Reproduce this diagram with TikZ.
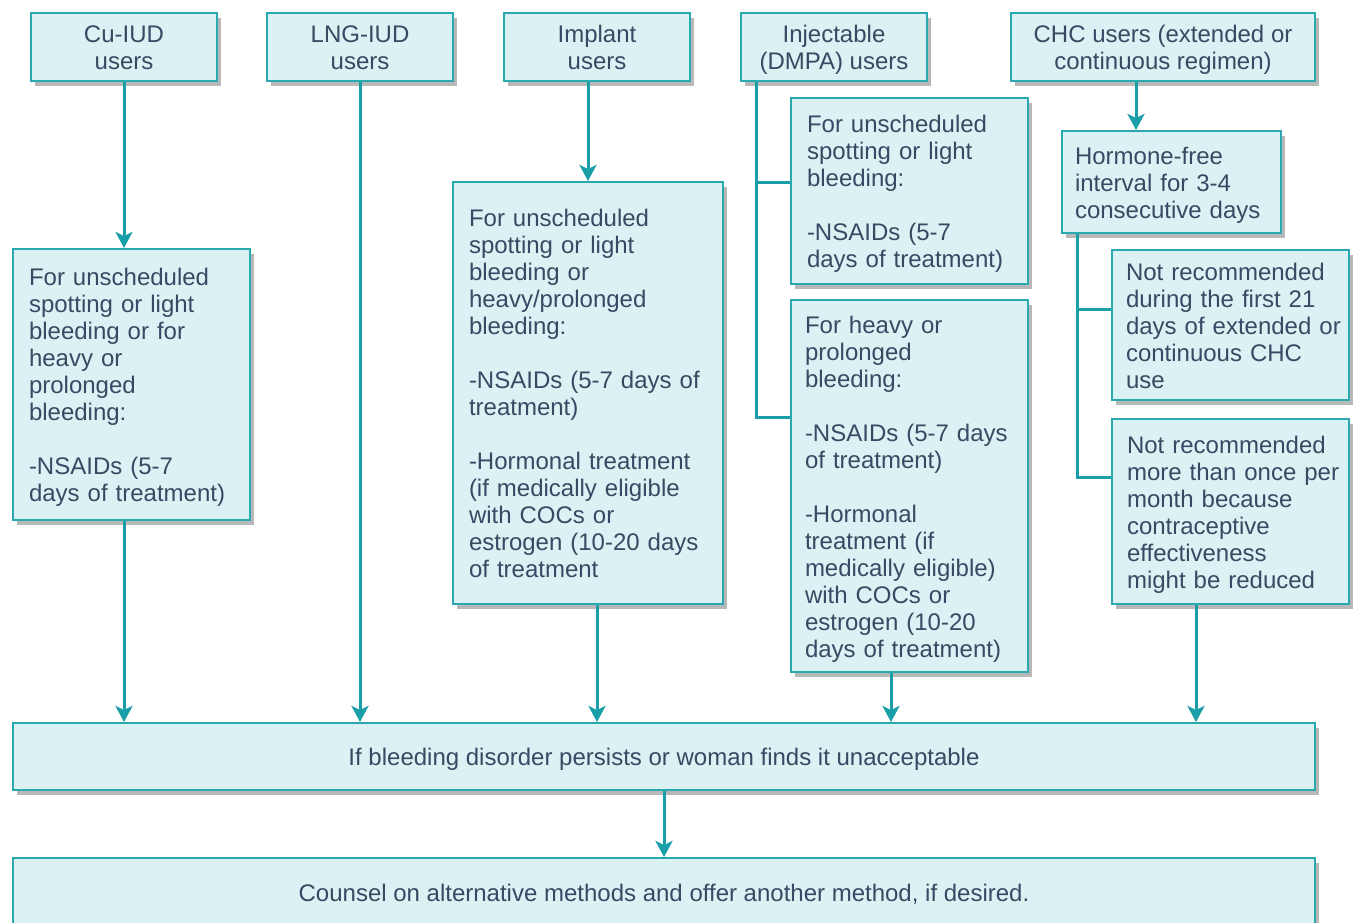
\documentclass[tikz,border=0pt]{standalone}
\usepackage{fontspec}
\setmainfont{Liberation Sans}
\usetikzlibrary{arrows.meta,shadows}

\definecolor{boxfill}{HTML}{DAF2F4}
\definecolor{boxline}{HTML}{2AA9B1}
\definecolor{flow}{HTML}{1A9FA8}
\definecolor{ink}{HTML}{3A4863}

% lines that never wrap, set a little low in their box
\newcommand{\cardlines}[2][l]{\raisebox{-4pt}[\height][\depth]{\begin{tabular}{@{}#1@{}}#2\end{tabular}}}

\begin{document}
\begin{tikzpicture}[x=1pt, y=-1pt,
    every node/.style={font=\fontsize{24}{27}\selectfont, text=ink},
    card/.style={draw=boxline, fill=boxfill, line width=2pt, anchor=north west, inner sep=0pt,
        drop shadow={shadow xshift=4pt, shadow yshift=-5pt, fill=black!28, opacity=1}},
    head/.style 2 args={card, minimum width=#1, minimum height=#2, align=center},
    note/.style 2 args={card, text width=#1, inner xsep=16pt, minimum height=#2, align=left},
    link/.style={draw=flow, line width=3pt},
    arr/.style={link, -{Stealth[length=16pt, width=17pt, inset=4pt]}}]
    \useasboundingbox (0,0) rectangle (1353,922);
    \clip (0,0) rectangle (1353,922);

    % user groups
    \node[head={186pt}{68pt}] (cu) at (30,12) {\cardlines[c]{Cu-IUD\\users}};
    \node[head={186pt}{68pt}] (lng) at (266,12) {\cardlines[c]{LNG-IUD\\users}};
    \node[head={186pt}{68pt}] (impl) at (503,12) {\cardlines[c]{Implant\\users}};
    \node[head={186pt}{68pt}] (inj) at (740,12) {\cardlines[c]{Injectable\\(DMPA) users}};
    \node[head={304pt}{68pt}] (chc) at (1010,12) {\cardlines[c]{CHC users (extended or\\continuous regimen)}};

    % Cu-IUD
    \node[note={205pt}{271pt}] (cuTreat) at (12,248) {\cardlines{For unscheduled\\spotting or light\\bleeding or for\\heavy or\\prolonged\\bleeding:\\ \\-NSAIDs (5-7\\days of treatment)}};
    \draw[arr] (cu.south) -- (cuTreat.north -| cu.south);

    % Implant
    \node[note={238pt}{422pt}] (implTreat) at (452,181) {\cardlines{For unscheduled\\spotting or light\\bleeding or\\heavy/prolonged\\bleeding:\\ \\-NSAIDs (5-7 days of\\treatment)\\ \\-Hormonal treatment\\(if medically eligible\\with COCs or\\estrogen (10-20 days\\of treatment}};
    \draw[arr] (impl.south -| implTreat.north) -- (implTreat.north);

    % Injectable
    \node[note={205pt}{186pt}] (injLight) at (790,97) {\cardlines{For unscheduled\\spotting or light\\bleeding:\\ \\-NSAIDs (5-7\\days of treatment)}};
    \node[note={209pt}{372pt}, inner xsep=14pt] (injHeavy) at (790,299) {\cardlines{For heavy or\\prolonged\\bleeding:\\ \\-NSAIDs (5-7 days\\of treatment)\\ \\-Hormonal\\treatment (if\\medically eligible)\\with COCs or\\estrogen (10-20\\days of treatment)}};
    \coordinate (injBus) at ([xshift=16pt]inj.south west);
    \draw[link] (injBus) |- ([yshift=69pt]injHeavy.west);
    \draw[link] ([yshift=9pt]injLight.west) -| (injBus);

    % CHC
    \node[note={193pt}{102pt}, inner xsep=13pt] (chcFree) at (1061,130) {\cardlines{Hormone-free\\interval for 3-4\\consecutive days}};
    \node[note={209pt}{150pt}, inner xsep=14pt] (chcFirst) at (1111,249) {\cardlines{Not recommended\\during the first 21\\days of extended or\\continuous CHC\\use}};
    \node[note={207pt}{185pt}, inner xsep=15pt] (chcOnce) at (1111,418) {\cardlines{Not recommended\\more than once per\\month because\\contraceptive\\effectiveness\\might be reduced}};
    \draw[arr] (chc.south -| 1136,0) -- (chcFree.north -| 1136,0);
    \coordinate (chcBus) at ([xshift=16pt]chcFree.south west);
    \draw[link] (chcBus) |- ([yshift=34pt]chcOnce.west);
    \draw[link] ([yshift=16pt]chcFirst.west) -| (chcBus);

    % outcome
    \node[head={1302pt}{67pt}] (persist) at (12,722) {\cardlines[c]{If bleeding disorder persists or woman finds it unacceptable}};
    \node[head={1302pt}{68pt}] (counsel) at (12,857) {\cardlines[c]{Counsel on alternative methods and offer another method, if desired.}};

    \draw[arr] (cuTreat.south -| cu.south) -- (persist.north -| cu.south);
    \draw[arr] (lng.south) -- (persist.north -| lng.south);
    \draw[arr] (implTreat.south -| impl.south) -- (persist.north -| impl.south);
    \draw[arr] (injHeavy.south -| 891,0) -- (persist.north -| 891,0);
    \draw[arr] (chcOnce.south -| 1196,0) -- (persist.north -| 1196,0);
    \draw[arr] (persist.south) -- (counsel.north);
\end{tikzpicture}
\end{document}
